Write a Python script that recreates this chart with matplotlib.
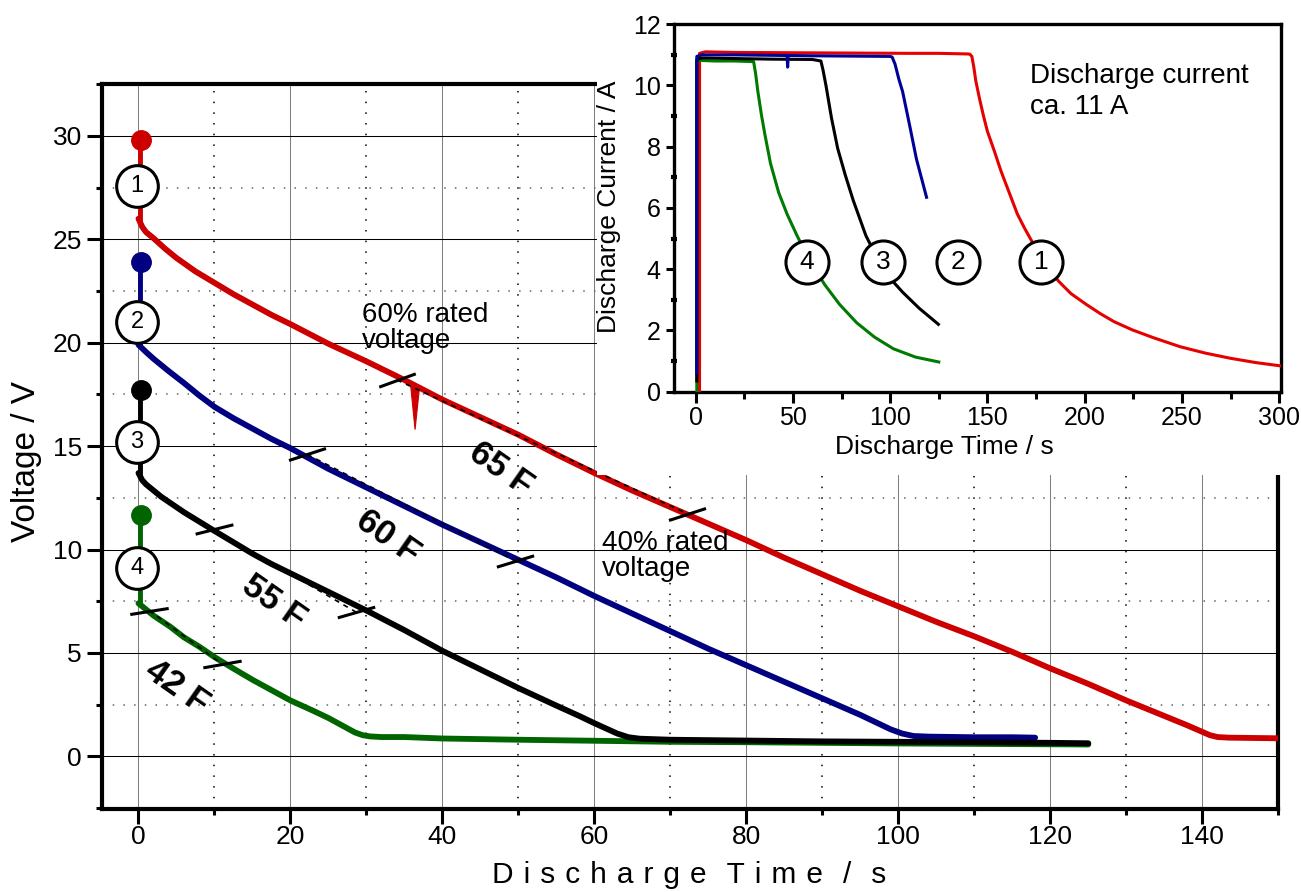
import numpy as np
import matplotlib.pyplot as plt
from matplotlib.ticker import MultipleLocator
from matplotlib.patches import Rectangle

plt.rcParams['font.family'] = ['Liberation Sans', 'DejaVu Sans']

# ---- main plot: cell voltage during discharge ----
t_red = [0, 0.5, 1, 2, 3.5, 5, 7.5, 10, 12.5, 15, 17.5, 20, 25, 30, 35, 40, 45, 50, 55, 60, 65,
         70, 75, 80, 85, 90, 95, 100, 105, 110, 115, 120, 125, 130, 135, 138, 140, 141, 142,
         143.5, 150]
v_red = [26.0, 25.6, 25.35, 25.05, 24.55, 24.1, 23.45, 22.9, 22.35, 21.85, 21.35, 20.9, 19.95,
         19.1, 18.2, 17.25, 16.4, 15.55, 14.6, 13.7, 12.85, 12.05, 11.25, 10.45, 9.6, 8.8, 8.0,
         7.25, 6.5, 5.8, 5.05, 4.25, 3.5, 2.7, 1.95, 1.5, 1.18, 1.02, 0.93, 0.9, 0.87]

t_blue = [0, 1, 2, 3, 4, 6, 8, 10, 12.5, 15, 17.5, 20, 25, 30, 35, 40, 45, 50, 55, 60, 65, 70,
          75, 80, 85, 90, 95, 97, 99, 100.5, 102, 104, 110, 115, 118]
v_blue = [19.9, 19.55, 19.22, 18.92, 18.62, 18.05, 17.45, 16.9, 16.35, 15.85, 15.35, 14.9,
          13.9, 13.0, 12.1, 11.2, 10.35, 9.5, 8.65, 7.75, 6.9, 6.05, 5.2, 4.4, 3.6, 2.8, 2.0,
          1.65, 1.3, 1.1, 0.98, 0.95, 0.92, 0.92, 0.9]

t_black = [0, 0.5, 1, 2, 3, 4, 6, 8, 10, 12.5, 15, 17.5, 20, 25, 30, 35, 40, 45, 50, 55, 58,
           60, 61.5, 63, 64.5, 66, 70, 80, 90, 100, 110, 120, 125]
v_black = [13.7, 13.35, 13.15, 12.85, 12.55, 12.3, 11.8, 11.35, 10.9, 10.35, 9.8, 9.3, 8.85,
           7.95, 7.05, 6.1, 5.1, 4.2, 3.3, 2.45, 1.95, 1.6, 1.35, 1.1, 0.92, 0.85, 0.8, 0.76,
           0.72, 0.7, 0.68, 0.65, 0.63]

t_green = [0, 1, 2, 4.2, 6, 8, 10, 12, 15, 18, 20, 23, 25, 26.5, 27.5, 28.5, 29.5, 30.5, 32,
           35, 40, 50, 60, 70, 80, 90, 100, 110, 120, 125]
v_green = [7.4, 7.1, 6.8, 6.26, 5.75, 5.3, 4.8, 4.35, 3.7, 3.1, 2.7, 2.2, 1.85, 1.55, 1.35,
           1.15, 1.02, 0.96, 0.93, 0.93, 0.86, 0.8, 0.75, 0.7, 0.68, 0.65, 0.62, 0.6, 0.58, 0.57]

# charge voltage before the load is switched on
v_start = [29.8, 23.9, 17.7, 11.65]
# glitch on the red trace
t_glitch = [35.8, 36.4, 37.0]
v_glitch = [18.0, 15.8, 17.9]

# 60 % / 40 % rated-voltage crossings used for the capacitance fit
mark_t = [[34.0, 72.2], [22.2, 49.6], [9.9, 28.6], [1.4, 11.05]]
mark_v = [[18.2, 11.74], [14.6, 9.45], [10.97, 6.98], [7.05, 4.45]]
mark_tilt = [[20, 18], [18, 17], [14, 16], [9, 10]]

cap_labels = ['65 F', '60 F', '55 F', '42 F']
cap_t = [47.7, 32.8, 17.8, 5.05]
cap_v = [13.9, 10.58, 7.45, 3.32]

num_labels = ['1', '2', '3', '4']
num_v = [27.6, 21.0, 15.2, 9.1]

# ---- inset: discharge current ----
ti_red = [2, 2, 5, 20, 50, 80, 110, 125, 140, 141, 142, 143, 144, 146, 148, 150, 153.6, 157,
          160, 165.4, 169, 172.5, 176, 180, 186.7, 193, 200.8, 208, 215, 224.4, 235, 249, 262,
          275, 288, 301]
ii_red = [0, 11.05, 11.1, 11.08, 11.07, 11.06, 11.05, 11.05, 11.03, 11.02, 10.95, 10.6, 10.16,
          9.55, 9.0, 8.5, 7.85, 7.2, 6.7, 5.8, 5.35, 4.95, 4.55, 4.15, 3.6, 3.2, 2.85, 2.55,
          2.29, 2.02, 1.77, 1.47, 1.26, 1.09, 0.95, 0.84]
ti_blue = [0.6, 0.6, 3, 20, 47, 47.3, 47.6, 60, 80, 100, 101, 102.5, 104.5, 106.4, 110, 113.5,
           116, 118.7]
ii_blue = [0.6, 10.95, 11.0, 11.0, 10.98, 10.6, 10.98, 10.97, 10.96, 10.95, 10.93, 10.7, 10.2,
           9.8, 8.7, 7.6, 7.0, 6.35]
ti_black = [0.6, 0.6, 3, 20, 40, 60, 64.4, 65.5, 67, 69.8, 73, 76.9, 81, 87.5, 95, 100, 106.4,
            115, 124.8]
ii_black = [0.35, 10.85, 10.9, 10.88, 10.86, 10.85, 10.8, 10.5, 10.0, 8.95, 7.95, 7.08, 6.25,
            5.1, 4.15, 3.7, 3.25, 2.72, 2.2]
ti_green = [0.6, 0.6, 2, 10, 20, 29.8, 30.8, 32, 33.8, 35.6, 38.5, 42.7, 47, 52.1, 58, 66.3, 74,
            82.8, 92, 101.7, 113, 125]
ii_green = [0, 10.8, 10.82, 10.8, 10.8, 10.78, 10.4, 9.8, 9.05, 8.4, 7.45, 6.5, 5.8, 5.1, 4.35,
            3.5, 2.85, 2.25, 1.78, 1.4, 1.13, 0.97]

inset_num_t = [177.5, 134.7, 96.4, 57.0]
inset_num_i = 4.22

main_colors = ['#cc0000', '#000080', 'black', '#006400']
inset_colors = ['#e60000', '#000099', 'black', '#007a00']

fig = plt.figure(figsize=(13.01, 8.92), dpi=100)
ax = fig.add_axes([0.0784, 0.09305, 0.90415, 0.81244])
ax.set_xlim(-4.8, 150)
ax.set_ylim(-2.55, 32.5)

ax.xaxis.set_major_locator(MultipleLocator(20))
ax.xaxis.set_minor_locator(MultipleLocator(10))
ax.yaxis.set_major_locator(MultipleLocator(5))
ax.yaxis.set_minor_locator(MultipleLocator(2.5))
ax.set_axisbelow(True)
ax.grid(which='major', color='black', lw=0.75)
ax.grid(which='minor', axis='x', color='black', lw=1.1, linestyle=(0, (1, 6)))
ax.grid(which='minor', axis='y', color='#666666', lw=1.1, linestyle=(0, (1, 6)))
for gl in ax.xaxis.get_gridlines():
    if abs(gl.get_xdata()[0]) < 1e-9:
        gl.set_color('#808080')

for s in ax.spines.values():
    s.set_linewidth(3)
ax.tick_params(which='major', direction='out', length=10.5, width=2.2, labelsize=19)
ax.tick_params(which='minor', direction='out', length=4.5, width=2.2)
ax.tick_params(axis='y', which='major', pad=4)
ax.tick_params(axis='x', which='major', pad=1)

curves = [(t_red, v_red), (t_blue, v_blue), (t_black, v_black), (t_green, v_green)]
order = [0, 3, 1, 2]
for k in order:
    t, v = curves[k]
    ax.plot(t, v, color=main_colors[k], lw=4.2, solid_capstyle='round',
            solid_joinstyle='round', zorder=3)
    ax.plot([0.25, 0.25], [v_start[k], v[0]], color=main_colors[k], lw=3.5, zorder=3)
    ax.plot(0.3, v_start[k], 'o', ms=14, color=main_colors[k], zorder=4)

ax.fill(t_glitch, v_glitch, color=main_colors[0], lw=0.8, zorder=3)

for k in range(4):
    ax.plot(mark_t[k], mark_v[k], color='black', lw=1.2, linestyle=(0, (3, 3)), zorder=5)
    for tt, vv, tilt in zip(mark_t[k], mark_v[k], mark_tilt[k]):
        ax.plot(tt, vv, marker=(2, 0, tilt - 90), ms=28, mec='black', mew=2.2, zorder=6)
    ax.text(cap_t[k], cap_v[k], cap_labels[k], fontsize=25, fontweight='bold',
            rotation=-35, ha='center', va='center', rotation_mode='anchor', zorder=6)
    ax.plot(-0.2, num_v[k], 'o', ms=30, mfc='white', mec='black', mew=2.2, zorder=7)
    ax.text(-0.2, num_v[k], num_labels[k], fontsize=17, ha='center', va='center', zorder=8)

ax.text(29.4, 21.96, '60% rated\nvoltage', fontsize=20, ha='left', va='top', linespacing=0.98)
ax.text(60.97, 10.94, '40% rated\nvoltage', fontsize=20, ha='left', va='top', linespacing=0.98)

sp = '\u2004'
xlabel = (2 * sp).join(sp.join(w) for w in ['Discharge', 'Time', '/', 's'])
fig.text(491.7 / 1301, 1 - 883 / 892, xlabel, fontsize=21.5, ha='left', va='baseline')
fig.text(27 / 1301, 1 - 462 / 892, 'Voltage / V', fontsize=24, rotation=90,
         ha='center', va='center')

# white area behind the inset
fig.patches.append(Rectangle((597 / 1301, 1 - 475 / 892), 1, 1, transform=fig.transFigure,
                             facecolor='white', edgecolor='none', zorder=1))

ins = fig.add_axes([0.5184, 0.5609, 0.4662, 0.4119])
ins.set_zorder(2)
ins.set_facecolor('white')
ins.set_xlim(-10.9, 300.9)
ins.set_ylim(0, 12)
ins.xaxis.set_major_locator(MultipleLocator(50))
ins.xaxis.set_minor_locator(MultipleLocator(25))
ins.yaxis.set_major_locator(MultipleLocator(2))
ins.yaxis.set_minor_locator(MultipleLocator(1))
for s in ins.spines.values():
    s.set_linewidth(2.4)
ins.tick_params(axis='x', which='major', direction='out', length=8, width=2.2, labelsize=18, pad=2)
ins.tick_params(axis='x', which='minor', direction='out', length=5, width=2.2)
ins.tick_params(axis='y', which='major', direction='out', length=6, width=2.2, labelsize=18, pad=4)
ins.tick_params(axis='y', which='minor', direction='inout', length=4, width=3)

inset_curves = [(ti_red, ii_red), (ti_blue, ii_blue), (ti_black, ii_black), (ti_green, ii_green)]
for k in [0, 3, 2, 1]:
    t, i = inset_curves[k]
    ins.plot(t, i, color=inset_colors[k], lw=2.2, solid_joinstyle='round', zorder=3)

for k in range(4):
    ins.plot(inset_num_t[k], inset_num_i, 'o', ms=31, mfc='white', mec='black', mew=2.2, zorder=5)
    ins.text(inset_num_t[k], inset_num_i, num_labels[k], fontsize=19, ha='center', va='center',
             zorder=6)

ins.text(171.9, 10.75, 'Discharge current\nca. 11 A', fontsize=20, ha='left', va='top',
         linespacing=1.25)

fig.text(944 / 1301, 1 - 454 / 892, 'Discharge Time / s', fontsize=19, ha='center',
         va='baseline', zorder=3)
fig.text(609 / 1301, 1 - 206.5 / 892, 'Discharge Current / A', fontsize=19, rotation=90,
         ha='center', va='center', zorder=3)

fig.savefig('out.png', dpi=100, facecolor='white')
